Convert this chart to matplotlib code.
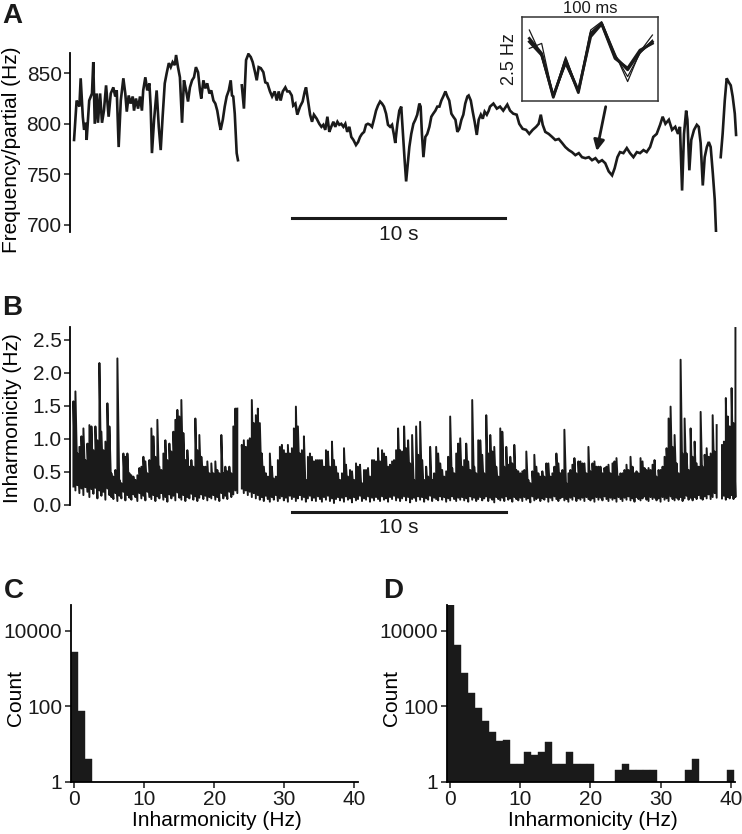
import numpy as np
import matplotlib
matplotlib.use('Agg')
import matplotlib.pyplot as plt
from matplotlib.ticker import FixedLocator, NullLocator, FormatStrFormatter

plt.rcParams['font.family'] = ['Liberation Sans', 'DejaVu Sans']

INK = '#1a1a1a'

# ---- panel A: frequency per partial (time in s, Hz), three recorded stretches
a_t1 = [0.19, 0.31, 0.44, 0.50, 0.60, 0.66, 0.75, 0.78, 0.90, 1.03,
        1.09, 1.16, 1.25, 1.31, 1.41, 1.50, 1.59, 1.69, 1.81, 1.91,
        2.03, 2.12, 2.19, 2.28, 2.38, 2.50, 2.59, 2.66, 2.75, 2.84,
        2.94, 3.00, 3.09, 3.19, 3.28, 3.37, 3.43, 3.53, 3.62, 3.72,
        3.78, 3.84, 3.94, 4.06, 4.16, 4.25, 4.34, 4.44, 4.53, 4.63,
        4.72, 4.81, 4.91, 4.97, 5.06, 5.15, 5.25, 5.34, 5.44, 5.53,
        5.62, 5.72, 5.81, 5.90, 6.00, 6.09, 6.15, 6.25, 6.34, 6.43,
        6.53, 6.62, 6.72, 6.81, 6.90, 7.00, 7.06, 7.16, 7.25, 7.34,
        7.44, 7.53, 7.59, 7.65, 7.72, 7.81, 7.87]
a_f1 = [784, 823, 817, 845, 807, 794, 801, 784, 823, 830,
        861, 800, 830, 801, 830, 801, 813, 838, 807, 830,
        836, 827, 833, 777, 823, 845, 830, 812, 828, 820,
        827, 813, 825, 815, 827, 813, 833, 846, 833, 840,
        817, 771, 804, 833, 797, 774, 807, 840, 850, 860,
        856, 861, 858, 868, 856, 846, 801, 843, 833, 822,
        836, 843, 846, 856, 851, 833, 825, 843, 835, 840,
        830, 833, 823, 820, 813, 800, 794, 804, 817, 827,
        833, 843, 828, 827, 810, 771, 764]

a_t2 = [8.05, 8.15, 8.25, 8.36, 8.47, 8.56, 8.67, 8.75, 8.84, 8.94,
        9.06, 9.15, 9.25, 9.37, 9.47, 9.59, 9.69, 9.78, 9.87, 9.97,
        10.09, 10.18, 10.28, 10.39, 10.46, 10.56, 10.65, 10.78, 10.90, 11.00,
        11.06, 11.15, 11.25, 11.34, 11.43, 11.56, 11.68, 11.78, 11.87, 11.96,
        12.06, 12.15, 12.24, 12.34, 12.43, 12.53, 12.62, 12.71, 12.81, 12.90,
        12.99, 13.09, 13.18, 13.28, 13.40, 13.50, 13.59, 13.68, 13.78, 13.87,
        13.96, 14.06, 14.15, 14.25, 14.34, 14.43, 14.53, 14.62, 14.71, 14.81,
        14.90, 15.00, 15.09, 15.18, 15.24, 15.34, 15.43, 15.52, 15.62, 15.68,
        15.75, 15.81, 15.90, 15.99, 16.09, 16.18, 16.27, 16.37, 16.43, 16.49,
        16.56, 16.65, 16.74, 16.84, 16.93, 17.02, 17.12, 17.21, 17.31, 17.40,
        17.49, 17.59, 17.68, 17.77, 17.87, 17.96, 18.06, 18.15, 18.24, 18.34,
        18.43, 18.52, 18.62, 18.68, 18.78, 18.87, 18.96, 19.06, 19.15, 19.25,
        19.34, 19.43, 19.53, 19.62, 19.68, 19.84, 20.00, 20.15, 20.30, 20.49,
        20.62, 20.77, 20.93, 21.05, 21.21, 21.37, 21.52, 21.68, 21.84, 21.96,
        22.06, 22.15, 22.27, 22.43, 22.59, 22.74, 22.90, 23.06, 23.21, 23.37,
        23.52, 23.68, 23.84, 23.99, 24.15, 24.31, 24.46, 24.62, 24.77, 24.93,
        25.08, 25.24, 25.40, 25.52, 25.65, 25.77, 25.93, 26.09, 26.24, 26.40,
        26.56, 26.71, 26.87, 27.02, 27.18, 27.33, 27.49, 27.65, 27.77, 27.90,
        28.06, 28.21, 28.36, 28.49, 28.58, 28.68, 28.77, 28.87, 28.93, 29.02,
        29.11, 29.24, 29.37, 29.46, 29.55, 29.65, 29.74, 29.84, 29.93, 30.02,
        30.12, 30.21, 30.27]
a_f2 = [838, 815, 863, 869, 866, 861, 851, 843, 856, 855,
        851, 841, 840, 832, 827, 832, 823, 832, 823, 832,
        836, 832, 832, 828, 818, 820, 809, 817, 822, 832,
        836, 823, 809, 802, 809, 805, 800, 797, 799, 794,
        807, 792, 797, 802, 797, 802, 799, 800, 797, 800,
        792, 797, 787, 784, 779, 782, 787, 790, 792, 799,
        800, 799, 797, 805, 813, 818, 822, 820, 817, 810,
        799, 797, 799, 789, 781, 800, 813, 817, 784, 764,
        743, 757, 777, 790, 800, 804, 809, 820, 817, 790,
        767, 787, 790, 797, 807, 810, 813, 817, 817, 823,
        827, 832, 827, 823, 810, 807, 804, 792, 795, 804,
        809, 820, 827, 828, 823, 812, 802, 789, 804, 809,
        805, 812, 809, 813, 817, 820, 815, 817, 813, 819,
        813, 810, 809, 800, 795, 794, 790, 794, 797, 800,
        809, 799, 792, 790, 787, 784, 785, 781, 777, 774,
        772, 769, 771, 767, 766, 767, 764, 766, 762, 764,
        761, 753, 749, 756, 767, 772, 771, 776, 771, 767,
        772, 771, 774, 772, 777, 787, 790, 799, 807, 800,
        804, 794, 797, 790, 797, 734, 790, 813, 804, 754,
        784, 794, 799, 797, 781, 739, 767, 777, 782, 777,
        751, 725, 693]

a_t3 = [30.49, 30.58, 30.68, 30.77, 30.87, 30.96, 31.05, 31.15, 31.21]
a_f3 = [767, 790, 823, 845, 841, 838, 827, 810, 789]

# ---- inset: four overlaid 100 ms snippets (ms, Hz above box floor)
ins_t = [5.2, 14.3, 22.9, 32.0, 41.4, 50.5, 58.6, 68.5, 77.8, 86.9, 96.1]
ins_thin1 = [2.12, 1.32, 0.13, 1.32, 0.28, 2.12, 2.37, 1.42, 0.58, 1.47, 1.97]
ins_thin2 = [1.57, 1.72, 0.13, 1.08, 0.28, 1.97, 2.27, 1.37, 0.73, 1.42, 1.82]
ins_thick1 = [1.87, 1.42, 0.11, 1.23, 0.25, 2.02, 2.32, 1.32, 0.93, 1.47, 1.77]
ins_thick2 = [1.77, 1.37, 0.15, 1.18, 0.31, 1.92, 2.30, 1.27, 0.98, 1.52, 1.72]

# ---- panel B: inharmonicity (Hz), peak and trough per sample pair
b_span1 = (0.16, 7.84)
b_hi1 = [1.57, 1.72, 0.78, 0.88, 1.04, 1.16, 0.68, 0.93, 1.21, 1.19,
         0.83, 1.19, 0.98, 2.15, 1.11, 0.83, 0.96, 1.54, 1.19, 0.48,
         0.43, 0.53, 2.22, 0.38, 0.33, 0.78, 0.73, 0.78, 0.48, 0.45,
         0.43, 0.38, 0.45, 0.56, 0.58, 0.73, 0.66, 0.48, 0.68, 1.16,
         1.04, 0.73, 1.29, 0.58, 0.53, 0.78, 0.98, 0.68, 0.93, 0.81,
         1.11, 1.29, 1.44, 1.34, 1.59, 1.09, 0.68, 0.83, 0.58, 0.68,
         0.58, 1.31, 0.83, 1.06, 0.73, 0.58, 0.58, 0.66, 0.48, 0.63,
         0.48, 0.66, 0.53, 0.48, 1.06, 0.48, 0.58, 0.51, 0.58, 0.48,
         1.19, 1.46, 1.46]
b_lo1 = [0.28, 0.22, 0.3, 0.18, 0.25, 0.15, 0.27, 0.2, 0.12, 0.24,
         0.17, 0.26, 0.1, 0.22, 0.14, 0.2, 0.08, 0.25, 0.15, 0.12,
         0.09, 0.18, 0.06, 0.14, 0.1, 0.2, 0.07, 0.15, 0.11, 0.08,
         0.16, 0.12, 0.06, 0.18, 0.1, 0.14, 0.07, 0.2, 0.12, 0.09,
         0.15, 0.06, 0.13, 0.1, 0.18, 0.08, 0.12, 0.05, 0.16, 0.1,
         0.14, 0.07, 0.19, 0.11, 0.08, 0.15, 0.06, 0.12, 0.1, 0.17,
         0.08, 0.13, 0.06, 0.11, 0.16, 0.09, 0.14, 0.07, 0.12, 0.1,
         0.15, 0.08, 0.12, 0.06, 0.18, 0.1, 0.14, 0.09, 0.2, 0.12,
         0.16, 0.22, 0.18]

b_span2 = (8.05, 30.30)
b_hi2 = [0.91, 0.98, 0.88, 0.98, 1.01, 1.59, 1.24, 1.36, 1.46, 1.24,
         0.78, 0.58, 0.48, 0.43, 0.78, 0.58, 0.40, 0.43, 0.68, 0.88,
         0.91, 0.83, 0.78, 0.91, 0.78, 0.86, 1.16, 1.49, 1.19, 0.78,
         0.83, 1.04, 0.38, 0.73, 0.78, 0.73, 0.66, 0.68, 0.68, 0.68,
         0.68, 0.58, 0.83, 0.81, 0.58, 0.96, 0.68, 0.58, 0.48, 0.38,
         0.48, 0.86, 0.61, 0.43, 0.53, 0.51, 0.38, 0.63, 0.58, 0.61,
         0.33, 0.53, 0.53, 0.56, 0.43, 0.68, 0.68, 0.66, 0.86, 0.66,
         0.83, 0.78, 0.73, 0.58, 0.61, 0.66, 0.68, 0.83, 1.16, 0.83,
         0.81, 1.19, 0.86, 0.98, 0.63, 1.06, 0.38, 1.19, 0.76, 1.26,
         0.68, 0.38, 0.58, 0.43, 0.88, 0.38, 0.48, 0.88, 0.78, 0.63,
         0.53, 0.43, 0.51, 0.73, 1.34, 0.56, 0.48, 0.78, 0.93, 1.01,
         0.58, 0.68, 0.93, 0.66, 0.53, 1.59, 0.58, 0.48, 0.98,
         0.98, 0.76, 0.48, 1.36, 0.78, 1.06, 0.81, 0.88, 0.58, 0.43,
         1.16, 1.11, 0.58, 0.88, 0.61, 0.73, 0.63, 0.91, 0.53, 0.51,
         0.48, 0.51, 0.53, 0.81, 0.38, 0.33, 0.51, 0.76, 0.58, 0.48,
         0.43, 0.51, 0.43, 0.63, 0.63, 0.43, 0.48, 0.58, 0.78, 0.63,
         0.48, 0.53, 1.14, 0.33, 0.48, 0.53, 0.61, 0.71, 0.48, 0.66,
         0.66, 0.63, 0.63, 0.48, 0.88, 0.51, 0.63, 0.66, 0.58, 0.58,
         0.58, 0.48, 0.56, 0.58, 0.61, 0.48, 0.63, 0.66, 0.71, 0.43,
         0.48, 0.48, 0.53, 0.61, 0.53, 0.73, 0.58, 0.48, 0.51, 0.48,
         0.71, 0.66, 0.56, 0.53, 0.56, 0.53, 0.61, 0.68, 0.43, 0.53,
         0.53, 0.58, 0.73, 0.86, 1.31, 1.49, 0.88, 1.06, 0.63, 0.48,
         2.20, 0.78, 1.31, 0.78, 0.53, 1.16, 0.73, 0.96, 0.63, 0.58,
         1.41, 0.58, 0.76, 0.86, 0.73, 0.78, 1.36, 0.81, 1.21]
b_lo2 = [0.25, 0.18, 0.22, 0.15, 0.2, 0.12, 0.18, 0.1, 0.15, 0.08,
         0.12, 0.06, 0.14, 0.09, 0.05, 0.12, 0.08, 0.15, 0.06, 0.1,
         0.13, 0.07, 0.11, 0.05, 0.14, 0.09, 0.12, 0.06, 0.1, 0.15,
         0.08, 0.12, 0.05, 0.1, 0.14, 0.07, 0.11, 0.06, 0.13, 0.09,
         0.05, 0.12, 0.08, 0.14, 0.06, 0.1, 0.03, 0.09, 0.12, 0.07,
         0.11, 0.05, 0.13, 0.08, 0.1, 0.04, 0.12, 0.07, 0.09, 0.14,
         0.06, 0.1, 0.08, 0.13, 0.05, 0.11, 0.07, 0.12, 0.09, 0.06,
         0.13, 0.08, 0.1, 0.05, 0.12, 0.09, 0.14, 0.07, 0.11, 0.06,
         0.1, 0.13, 0.07, 0.12, 0.04, 0.09, 0.11, 0.06, 0.13, 0.08,
         0.12, 0.05, 0.1, 0.08, 0.14, 0.06, 0.11, 0.09, 0.07, 0.13,
         0.08, 0.12, 0.05, 0.1, 0.07, 0.13, 0.09, 0.06, 0.11, 0.08,
         0.12, 0.07, 0.1, 0.05, 0.13, 0.08, 0.11, 0.06, 0.09, 0.12,
         0.07, 0.1, 0.13, 0.06, 0.11, 0.08, 0.04, 0.12, 0.09, 0.07,
         0.11, 0.06, 0.13, 0.08, 0.1, 0.05, 0.12, 0.09, 0.07, 0.11,
         0.06, 0.12, 0.08, 0.1, 0.04, 0.13, 0.07, 0.09, 0.11, 0.06,
         0.1, 0.08, 0.12, 0.05, 0.11, 0.07, 0.13, 0.09, 0.06, 0.1,
         0.12, 0.07, 0.09, 0.05, 0.11, 0.08, 0.13, 0.06, 0.1, 0.08,
         0.11, 0.06, 0.12, 0.09, 0.07, 0.1, 0.05, 0.12, 0.08, 0.11,
         0.07, 0.13, 0.09, 0.06, 0.11, 0.08, 0.1, 0.05, 0.12, 0.09,
         0.06, 0.11, 0.08, 0.13, 0.07, 0.1, 0.05, 0.12, 0.09, 0.07,
         0.1, 0.13, 0.08, 0.06, 0.12, 0.09, 0.11, 0.07, 0.1, 0.05,
         0.12, 0.08, 0.1, 0.06, 0.13, 0.09, 0.07, 0.11, 0.08, 0.12,
         0.06, 0.1, 0.14, 0.08, 0.11, 0.07, 0.12, 0.09, 0.15, 0.1,
         0.08, 0.13, 0.1, 0.16, 0.09, 0.12, 0.18, 0.11]

b_span3 = (30.55, 31.18)
b_hi3 = [0.91, 0.96, 1.62, 1.34, 1.19, 1.77, 1.24, 2.68]
b_lo3 = [0.1, 0.14, 0.08, 0.12, 0.1, 0.15, 0.09, 0.12]

# ---- panels C and D: inharmonicity histograms, 1 Hz bins centred on 0..40
hist_centres = list(range(41))
c_counts = [2760, 75, 4, 0, 0, 0, 0, 0, 0, 0,
            0, 0, 0, 0, 0, 0, 0, 0, 0, 0,
            0, 0, 0, 0, 0, 0, 0, 0, 0, 0,
            0, 0, 0, 0, 0, 0, 0, 0, 0, 0, 0]
d_counts = [47000, 4200, 740, 230, 91, 40, 21, 12, 13, 3,
            3, 6, 5, 6, 11, 3, 3, 6, 3, 3,
            3, 0, 0, 0, 2, 3, 2, 2, 2, 2,
            0, 0, 0, 0, 2, 4, 0, 0, 0, 0, 2]

FS = 15
W, H = 742, 834


def px_axes(x0, x1, ytop, ybot):
    # figure rectangle given in reference pixel coordinates
    return [x0 / W, 1 - ybot / H, (x1 - x0) / W, (ybot - ytop) / H]


def style_axis(ax, bottom=False):
    for side in ['top', 'right']:
        ax.spines[side].set_visible(False)
    ax.spines['left'].set_linewidth(1.3)
    ax.spines['bottom'].set_linewidth(1.3)
    ax.spines['bottom'].set_visible(bottom)
    ax.tick_params(direction='out', length=4, width=1.1, labelsize=FS,
                   colors=INK, pad=2)
    if not bottom:
        ax.tick_params(axis='x', bottom=False, labelbottom=False)


fig = plt.figure(figsize=(W / 100, H / 100), dpi=100)

# ---------------- panel A
ax_a = fig.add_axes(px_axes(70, 738, 53, 232))
for tt, ff in [(a_t1, a_f1), (a_t2, a_f2), (a_t3, a_f3)]:
    ax_a.plot(tt, ff, color=INK, lw=1.9, solid_joinstyle='miter')
ax_a.set_xlim(0, 31.3)
ax_a.set_ylim(693, 870)
style_axis(ax_a)
ax_a.yaxis.set_major_locator(FixedLocator([700, 750, 800, 850]))
ax_a.set_ylabel('Frequency/partial (Hz)', fontsize=FS, va='center')
ax_a.yaxis.set_label_coords(-0.088, 0.458)
ax_a.plot([10.4, 20.4], [706.9, 706.9], color=INK, lw=2.2, clip_on=False)
ax_a.text(15.4, 690.3, '10 s', fontsize=FS, ha='center', va='center', color=INK)

# inset
ax_in = fig.add_axes(px_axes(522.3, 657.7, 17.3, 101))
ax_in.plot(ins_t, ins_thin1, color=INK, lw=0.9)
ax_in.plot(ins_t, ins_thin2, color=INK, lw=0.9)
ax_in.plot(ins_t, ins_thick1, color=INK, lw=2.0)
ax_in.plot(ins_t, ins_thick2, color=INK, lw=2.0)
ax_in.set_xlim(0, 100)
ax_in.set_ylim(0, 2.5)
ax_in.set_xticks([])
ax_in.set_yticks([])
for s in ax_in.spines.values():
    s.set_linewidth(1.1)
    s.set_color('#333333')
ax_in.set_title('100 ms', fontsize=12, pad=3, color=INK)
ax_in.set_ylabel('2.5 Hz', fontsize=13, labelpad=3, color=INK)
ax_a.annotate('', xy=(596.7 / W, 1 - 151 / H), xytext=(605.7 / W, 1 - 106.7 / H),
              xycoords='figure fraction', textcoords='figure fraction',
              annotation_clip=False,
              arrowprops=dict(arrowstyle='-|>', color=INK, lw=2.0,
                              mutation_scale=16, shrinkA=0, shrinkB=0))

# ---------------- panel B
ax_b = fig.add_axes(px_axes(70, 738, 326.7, 505))
for span, lo, hi in [(b_span1, b_lo1, b_hi1), (b_span2, b_lo2, b_hi2),
                     (b_span3, b_lo3, b_hi3)]:
    tt = np.linspace(span[0], span[1], len(hi))
    xs = np.repeat(tt, 2)
    ys = np.column_stack([lo, hi]).ravel()
    ax_b.plot(xs, ys, color=INK, lw=1.4)
ax_b.set_xlim(0, 31.3)
ax_b.set_ylim(0, 2.7)
style_axis(ax_b)
ax_b.yaxis.set_major_locator(FixedLocator([0, 0.5, 1.0, 1.5, 2.0, 2.5]))
ax_b.yaxis.set_major_formatter(FormatStrFormatter('%.1f'))
ax_b.set_ylabel('Inharmonicity (Hz)', fontsize=FS, va='center')
ax_b.yaxis.set_label_coords(-0.086, 0.488)
ax_b.plot([10.39, 20.42], [-0.11, -0.11], color=INK, lw=2.2, clip_on=False)
ax_b.text(15.4, -0.34, '10 s', fontsize=FS, ha='center', va='center', color=INK)

# ---------------- panels C and D
for rect, counts in [(px_axes(70.7, 358.3, 605, 781.7), c_counts),
                     (px_axes(446.7, 735, 605, 781.7), d_counts)]:
    ax = fig.add_axes(rect)
    ax.set_yscale('log')
    ax.bar(hist_centres, counts, width=1.0, color=INK, edgecolor=INK,
           linewidth=0.3, align='center')
    ax.set_xlim(-0.5, 40.6)
    ax.set_ylim(1, 4.8e4)
    style_axis(ax, bottom=True)
    ax.xaxis.set_major_locator(FixedLocator([0, 10, 20, 30, 40]))
    ax.yaxis.set_major_locator(FixedLocator([1, 100, 10000]))
    ax.yaxis.set_minor_locator(NullLocator())
    ax.set_yticklabels(['1', '100', '10000'])
    ax.set_ylabel('Count', fontsize=FS, va='center')
    ax.yaxis.set_label_coords(-0.192, 0.471)
    ax.set_xlabel('Inharmonicity (Hz)', fontsize=FS, va='center')
    ax.xaxis.set_label_coords(0.508, -0.222)

# panel letters
for letter, x, y in [('A', 2, 23), ('B', 2, 315), ('C', 4, 598), ('D', 383, 598)]:
    fig.text(x / W, 1 - y / H, letter, fontsize=20, fontweight='bold',
             ha='left', va='baseline', color=INK)

fig.savefig('out.png', dpi=100)
